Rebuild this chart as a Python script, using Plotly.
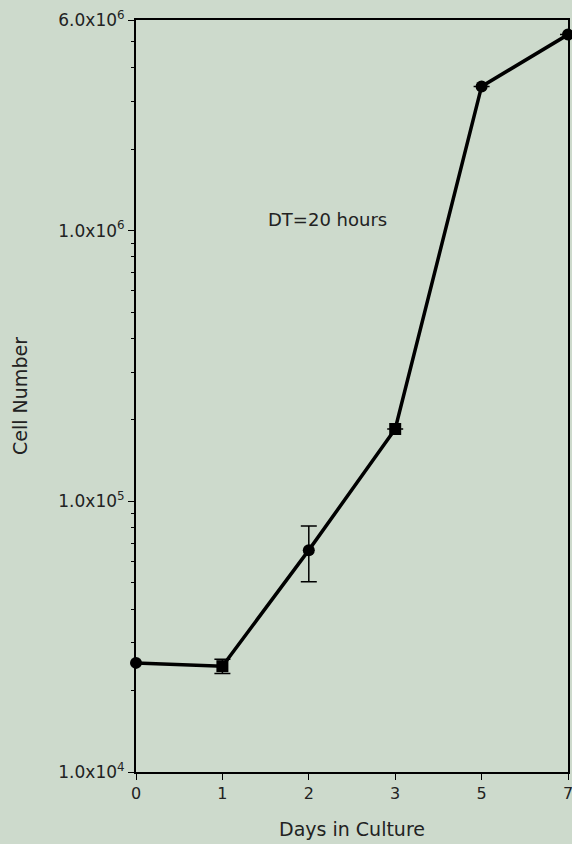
import plotly.graph_objects as go

# Data
days = ["0", "1", "2", "3", "5", "7"]
cell_number = [25300, 24600, 66000, 185000, 3410000, 5300000]
err_plus = [0, 1500, 15000, 0, 0, 0]
err_minus = [0, 1500, 15500, 0, 0, 0]
marker_symbols = ["circle", "square", "circle", "square", "circle", "circle"]

y_tickvals = [1e4, 1e5, 1e6, 6e6]
y_ticktext = ["1.0x10<sup>4</sup>", "1.0x10<sup>5</sup>", "1.0x10<sup>6</sup>", "6.0x10<sup>6</sup>"]
minor_vals = [m * 10 ** e for e in (4, 5) for m in range(2, 10)] + [m * 1e6 for m in range(2, 6)]

bg = "#cddacc"
font = dict(family="DejaVu Sans, Arial, sans-serif", size=16, color="#222222")

fig = go.Figure()
fig.add_trace(go.Scatter(
    x=days,
    y=cell_number,
    mode="lines+markers",
    line=dict(color="black", width=3.5),
    marker=dict(color="black", size=12, symbol=marker_symbols),
    error_y=dict(type="data", symmetric=False, array=err_plus, arrayminus=err_minus,
                 color="black", thickness=1.5, width=8),
    cliponaxis=False,
    showlegend=False,
))

fig.add_annotation(x=2.22, y=6.04, xref="x", yref="y", text="DT=20 hours",
                   showarrow=False, font=dict(size=18, color="#222222"))

fig.update_layout(
    width=572,
    height=844,
    margin=dict(l=136, r=4, t=20, b=72),
    paper_bgcolor=bg,
    plot_bgcolor=bg,
    font=font,
)

fig.update_xaxes(
    type="category",
    range=[0, 5],
    automargin=False,
    showgrid=False,
    zeroline=False,
    showline=True,
    linecolor="black",
    linewidth=2,
    mirror=True,
    ticks="outside",
    ticklen=6,
    tickcolor="black",
    title=dict(text="Days in Culture", standoff=20),
)

fig.update_yaxes(
    type="log",
    range=[4, 6.7782],
    automargin=False,
    showgrid=False,
    zeroline=False,
    showline=True,
    linecolor="black",
    linewidth=2,
    mirror=True,
    tickvals=y_tickvals,
    ticktext=y_ticktext,
    tickfont=dict(size=17),
    ticks="outside",
    ticklen=6,
    tickcolor="black",
    minor=dict(tickvals=minor_vals, ticks="outside", ticklen=3, tickcolor="black", showgrid=False),
    title=dict(text="Cell Number", standoff=26),
)

fig.write_html("out.html", config={"displayModeBar": False},
               post_script="document.body.style.margin='0';")
